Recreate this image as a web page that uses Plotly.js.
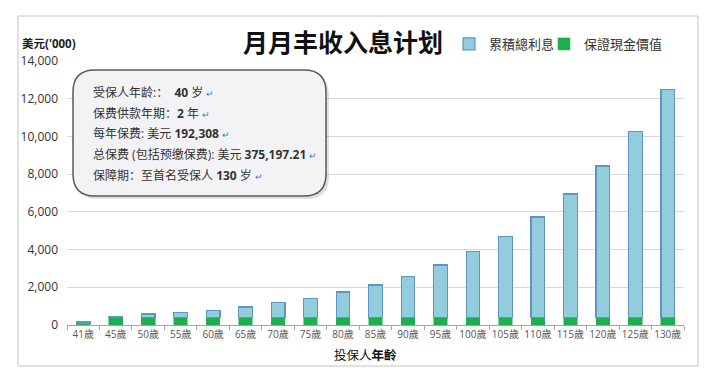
<!DOCTYPE html>
<html>
<head>
<meta charset="utf-8">
<script src="https://cdn.plot.ly/plotly-3.0.1.min.js"></script>
<style>html,body{margin:0;padding:0;background:#fff;}#chart{width:708px;height:378px;}</style>
</head>
<body>
<div id="chart"></div>
<script>
// Categories (insured age)
const ages = ['41歲','45歲','50歲','55歲','60歲','65歲','70歲','75歲','80歲','85歲','90歲','95歲','100歲','105歲','110歲','115歲','120歲','125歲','130歲'];
// Guaranteed cash value ('000 USD)
const guaranteed = [110,380,380,380,380,380,380,380,380,380,380,380,380,380,380,380,380,380,380];
// Accumulated interest ('000 USD), stacked on top
const interest = [80,60,200,270,390,570,830,1040,1370,1740,2180,2800,3510,4320,5350,6570,8050,9900,12110];
const yTicks = [0,2000,4000,6000,8000,10000,12000,14000];
const yTickText = ['0','2,000','4,000','6,000','8,000','10,000','12,000','14,000'];

const infoLines = [
  '受保人年龄:：  <b>40</b> 岁',
  '保费供款年期：<b>2</b> 年',
  '每年保费: 美元 <b>192,308</b>',
  '总保费 (包括预缴保费): 美元 <b>375,197.21</b>',
  '保障期：至首名受保人 <b>130</b> 岁'
];

const FONT = 'Open Sans, Noto Sans CJK SC, sans-serif';

const traces = [
  {type:'bar', name:'保證現金價值', x:ages, y:guaranteed, legend:'legend2', showlegend:true,
   marker:{color:'#1dae50', line:{color:'#1dae50', width:0.5}}},
  {type:'bar', name:'累積總利息', x:ages, y:interest, legend:'legend', showlegend:true,
   marker:{color:'#93cddd', line:{color:'#5d95c8', width:1.2}}}
];

const L=67, R=24, T=61, B=53;
const W=708-L-R, H=378-T-B;
const px = v => (v-L)/W;
const py = v => (378-B-v)/H;

function roundRect(x0,y0,x1,y1,r){
  const a=px(x0), b=px(x1), c=py(y0), d=py(y1);
  const rx=r/W, ry=r/H;
  return `M${a+rx},${c} L${b-rx},${c} Q${b},${c} ${b},${c-ry} L${b},${d+ry} Q${b},${d} ${b-rx},${d} L${a+rx},${d} Q${a},${d} ${a},${d+ry} L${a},${c-ry} Q${a},${c} ${a+rx},${c} Z`;
}

const shapes = [
  {type:'rect', xref:'paper', yref:'paper', x0:px(18), x1:px(698), y0:py(366), y1:py(16),
   line:{color:'#c4c4c4', width:1}, fillcolor:'rgba(0,0,0,0)', layer:'below'},
  {type:'path', xref:'paper', yref:'paper', path:roundRect(76,73,329,199,22),
   line:{width:0}, fillcolor:'rgba(0,0,0,0.12)', layer:'above'},
  {type:'path', xref:'paper', yref:'paper', path:roundRect(73,70,326,196,22),
   line:{color:'#5a5a5a', width:1.5}, fillcolor:'#f3f3f5', layer:'above'}
];

const lineYs = [92,113,133,154,175];
const annotations = infoLines.map((t,i)=>({
  xref:'paper', yref:'paper', x:px(91), y:py(lineYs[i]), xanchor:'left', yanchor:'middle',
  text: t + ' <span style="color:#3a7bd5;font-size:9px">↵</span>', showarrow:false,
  font:{family:FONT, size:12, color:'#333333'}
}));
annotations.push({xref:'paper', yref:'paper', x:px(20), y:py(44), xanchor:'left', yanchor:'middle',
  text:'<b>美元(\'000)</b>', showarrow:false, font:{family:FONT, size:11.5, color:'#222'}});
annotations.push({xref:'paper', yref:'paper', x:px(365), y:py(355), xanchor:'center', yanchor:'middle',
  text:'投保人<b>年齡</b>', showarrow:false, font:{family:FONT, size:12.5, color:'#111'}});

const legendBase = {orientation:'h', xref:'paper', yref:'paper', yanchor:'middle', xanchor:'left',
  font:{family:FONT, size:13, color:'#333'}, itemwidth:30, bgcolor:'rgba(0,0,0,0)'};

const layout = {
  width:708, height:378,
  margin:{l:L, r:R, t:T, b:B},
  paper_bgcolor:'#ffffff', plot_bgcolor:'#ffffff',
  showlegend:true,
  barmode:'stack', bargap:0.58,
  title:{text:'<b>月月丰收入息计划</b>', xref:'container', yref:'container',
    x:343/708, y:1-43/378, xanchor:'center', yanchor:'middle',
    font:{family:FONT, size:25, color:'#111'}},
  legend:Object.assign({}, legendBase, {x:px(449), y:py(44), visible:true}),
  legend2:Object.assign({}, legendBase, {x:px(544), y:py(44), visible:true}),
  xaxis:{type:'category', showgrid:false, showline:true, linecolor:'#a6a6a6', linewidth:1,
    ticks:'outside', tickson:'boundaries', ticklen:4, tickcolor:'#a6a6a6', tickangle:0,
    tickfont:{family:FONT, size:10, color:'#555'}},
  yaxis:{range:[0,14000], tickvals:yTicks, ticktext:yTickText, showgrid:true, gridcolor:'#d9d9d9', gridwidth:1,
    zeroline:false, showline:false, ticks:'', ticklabelstandoff:8,
    tickfont:{family:FONT, size:12, color:'#333'}},
  shapes:shapes, annotations:annotations
};

Plotly.newPlot('chart', traces, layout, {displayModeBar:false, staticPlot:true});
</script>
</body>
</html>
